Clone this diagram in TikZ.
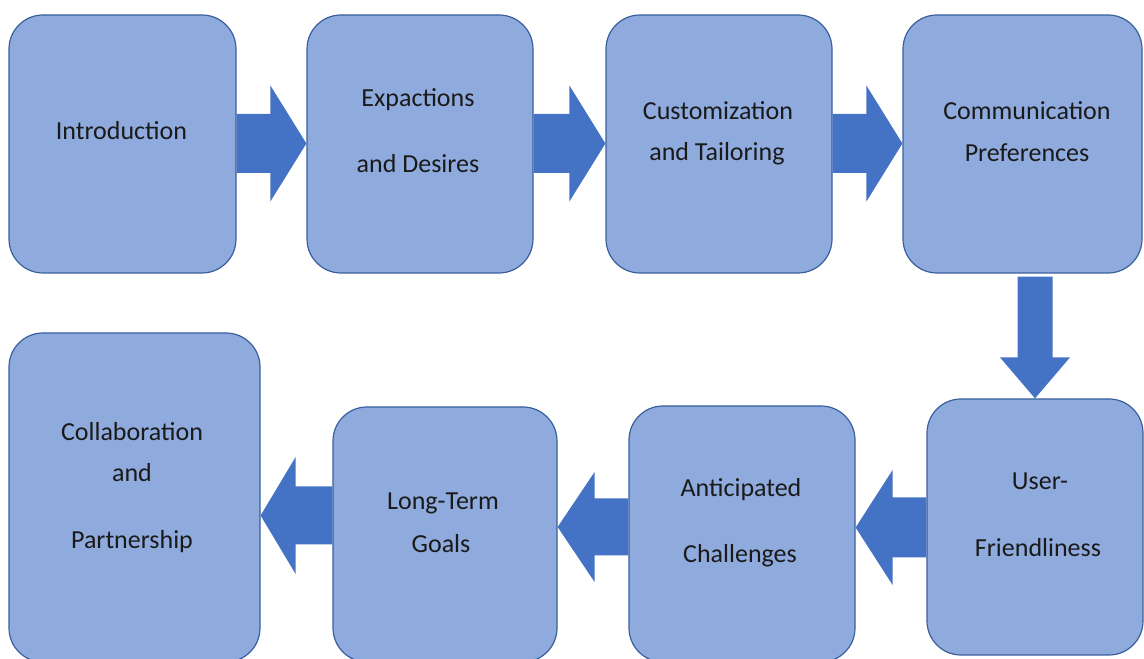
\documentclass[tikz,border=0pt]{standalone}
\usepackage{fontspec}
\setmainfont{Carlito}
\usetikzlibrary{calc}

\definecolor{boxfill}{HTML}{8FAADC}
\definecolor{boxline}{HTML}{3A5F9E}
\definecolor{flowfill}{HTML}{4472C4}
\definecolor{ink}{HTML}{1A1A1A}

\tikzset{
  stage/.style={draw=boxline, fill=boxfill, line width=1.2pt,
    rounded corners=34pt, inner sep=0pt},
  caption/.style={anchor=base, text=ink, inner sep=0pt,
    font=\fontsize{26}{30}\selectfont},
  flow/.style={fill=flowfill, draw=none}
}

% horizontal block arrows: tail node, tip node, centre y, shaft half, head half, head length
\newcommand\flowright[6]{%
  \fill[flow] let \p1=(#1.east), \p2=(#2.west) in
    (\x1,{#3pt+#4pt}) -- ({\x2-#6pt},{#3pt+#4pt}) -- ({\x2-#6pt},{#3pt+#5pt})
    -- (\x2,{#3pt}) -- ({\x2-#6pt},{#3pt-#5pt}) -- ({\x2-#6pt},{#3pt-#4pt})
    -- (\x1,{#3pt-#4pt}) -- cycle;}
\newcommand\flowleft[6]{%
  \fill[flow] let \p1=(#1.west), \p2=(#2.east) in
    (\x1,{#3pt+#4pt}) -- ({\x2+#6pt},{#3pt+#4pt}) -- ({\x2+#6pt},{#3pt+#5pt})
    -- (\x2,{#3pt}) -- ({\x2+#6pt},{#3pt-#5pt}) -- ({\x2+#6pt},{#3pt-#4pt})
    -- (\x1,{#3pt-#4pt}) -- cycle;}

\begin{document}
\begin{tikzpicture}[x=1pt,y=1pt]
\useasboundingbox (0,0) rectangle (1144,659);
\clip (0,0) rectangle (1144,659);

% top row
\node[stage, minimum width=227pt, minimum height=258pt] (intro)  at (122.5,515) {};
\node[stage, minimum width=226pt, minimum height=258pt] (expect) at (420,515) {};
\node[stage, minimum width=226pt, minimum height=258pt] (custom) at (719,515) {};
\node[stage, minimum width=239pt, minimum height=258pt] (comm)   at (1022.5,515) {};

% bottom row (the lower three run past the bottom edge)
\node[stage, minimum width=216pt, minimum height=256pt] (user)   at (1035,132) {};
\node[stage, minimum width=226pt, minimum height=256pt] (antic)  at (742,125) {};
\node[stage, minimum width=224pt, minimum height=255pt] (goals)  at (445,124.5) {};
\node[stage, minimum width=251pt, minimum height=329pt] (collab) at (134.5,161.5) {};

% captions
\node[caption] (t1)  at (121.5,519) {Introduction};
\node[caption] (t2a) at (418,552) {Expactions};
\node[caption] (t2b) at (418,486) {and Desires};
\node[caption] (t3a) at (718,539) {Customization};
\node[caption] (t3b) at (717,498) {and Tailoring};
\node[caption] (t4a) at (1027,539) {Communication};
\node[caption] (t4b) at (1027,497) {Preferences};
\node[caption] (t5a) at (1040,169) {User-};
\node[caption] (t5b) at (1038,102) {Friendliness};
\node[caption] (t6a) at (741,162) {Anticipated};
\node[caption] (t6b) at (740,96) {Challenges};
\node[caption] (t7a) at (443,149) {Long-Term};
\node[caption] (t7b) at (441,106) {Goals};
\node[caption] (t8a) at (132,218) {Collaboration};
\node[caption] (t8b) at (132,177) {and};
\node[caption] (t8c) at (132,110) {Partnership};

% arrows along the top row
\flowright{intro}{expect}{515.5}{29.5}{58}{36}
\flowright{expect}{custom}{515.5}{29.5}{58}{36}
\flowright{custom}{comm}{515.5}{29.5}{58}{36}

% arrow down to the second row
\fill[flow] let \p1=(comm.south), \p2=(user.north) in
  ({\x2-17.5pt},{\y1-3pt}) -- ({\x2+17.5pt},{\y1-3pt}) -- ({\x2+17.5pt},{\y2+41pt})
  -- ({\x2+35pt},{\y2+41pt}) -- (\x2,\y2) -- ({\x2-35pt},{\y2+41pt})
  -- ({\x2-17.5pt},{\y2+41pt}) -- cycle;

% arrows along the bottom row
\flowleft{user}{antic}{131.5}{30}{57.5}{37}
\flowleft{antic}{goals}{132}{28.5}{55}{37}
\flowleft{goals}{collab}{143.5}{29}{58.5}{35}
\end{tikzpicture}
\end{document}
